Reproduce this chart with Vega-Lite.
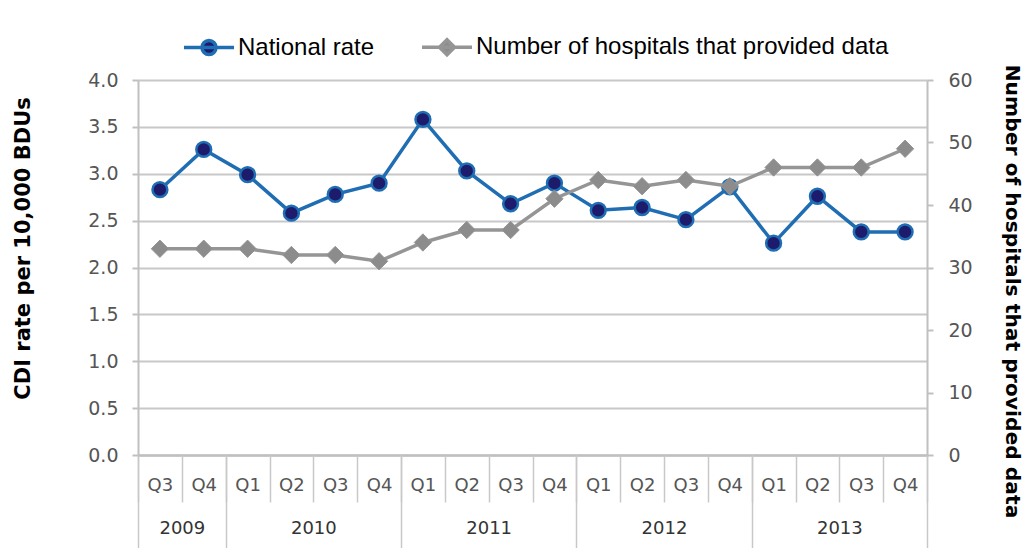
{
  "$schema": "https://vega.github.io/schema/vega-lite/v6.json",
  "width": 789,
  "height": 375,
  "autosize": "none",
  "padding": {"left": 138, "top": 80, "right": 99, "bottom": 93},
  "background": "white",
  "config": {
    "view": {"stroke": null},
    "font": "DejaVu Sans",
    "axis": {"labelFont": "DejaVu Sans", "titleFont": "DejaVu Sans"}
  },
  "data": {
    "values": [
      {"t": 0, "year": 2009, "quarter": "Q3", "rate": 2.83, "hospitals": 33},
      {"t": 1, "year": 2009, "quarter": "Q4", "rate": 3.26, "hospitals": 33},
      {"t": 2, "year": 2010, "quarter": "Q1", "rate": 2.99, "hospitals": 33},
      {"t": 3, "year": 2010, "quarter": "Q2", "rate": 2.58, "hospitals": 32},
      {"t": 4, "year": 2010, "quarter": "Q3", "rate": 2.78, "hospitals": 32},
      {"t": 5, "year": 2010, "quarter": "Q4", "rate": 2.9, "hospitals": 31},
      {"t": 6, "year": 2011, "quarter": "Q1", "rate": 3.58, "hospitals": 34},
      {"t": 7, "year": 2011, "quarter": "Q2", "rate": 3.03, "hospitals": 36},
      {"t": 8, "year": 2011, "quarter": "Q3", "rate": 2.68, "hospitals": 36},
      {"t": 9, "year": 2011, "quarter": "Q4", "rate": 2.9, "hospitals": 41},
      {"t": 10, "year": 2012, "quarter": "Q1", "rate": 2.61, "hospitals": 44},
      {"t": 11, "year": 2012, "quarter": "Q2", "rate": 2.64, "hospitals": 43},
      {"t": 12, "year": 2012, "quarter": "Q3", "rate": 2.51, "hospitals": 44},
      {"t": 13, "year": 2012, "quarter": "Q4", "rate": 2.86, "hospitals": 43},
      {"t": 14, "year": 2013, "quarter": "Q1", "rate": 2.26, "hospitals": 46},
      {"t": 15, "year": 2013, "quarter": "Q2", "rate": 2.76, "hospitals": 46},
      {"t": 16, "year": 2013, "quarter": "Q3", "rate": 2.38, "hospitals": 46},
      {"t": 17, "year": 2013, "quarter": "Q4", "rate": 2.38, "hospitals": 49}
    ]
  },
  "layer": [
    {
      "layer": [
        {
          "mark": {"type": "line", "strokeWidth": 3.5},
          "encoding": {
            "x": {
              "field": "t", "type": "quantitative",
              "scale": {"domain": [-0.5, 17.5], "nice": false, "zero": false},
              "axis": {
                "orient": "bottom", "title": null, "values": [0,1,2,3,4,5,6,7,8,9,10,11,12,13,14,15,16,17],
                "labelExpr": "'Q' + ((datum.value + 2) % 4 + 1)",
                "ticks": false, "grid": false, "labelFontSize": 18, "labelColor": "#555555",
                "labelPadding": 21, "domainColor": "#c0c0c0", "domainWidth": 2.5
              }
            },
            "y": {
              "field": "rate", "type": "quantitative",
              "scale": {"domain": [0, 4], "nice": false},
              "axis": {
                "values": [0, 0.5, 1, 1.5, 2, 2.5, 3, 3.5, 4], "format": ".1f",
                "title": "CDI rate per 10,000 BDUs", "titleFontSize": 21, "titleFontWeight": "bold",
                "titleColor": "#000000", "titlePadding": 54, "titleY": 168,
                "labelFontSize": 19, "labelColor": "#555555", "labelPadding": 14,
                "grid": true, "gridColor": "#c8c8c8", "gridWidth": 2,
                "tickColor": "#c0c0c0", "tickSize": 6, "tickWidth": 2,
                "domainColor": "#c0c0c0", "domainWidth": 2
              }
            },
            "color": {
              "datum": "National rate",
              "scale": {"domain": ["National rate", "Number of hospitals that provided data"], "range": ["#1f6db3", "#959595"]},
              "legend": {
                "orient": "none", "legendX": 44, "legendY": -60, "direction": "horizontal",
                "title": null, "labelFontSize": 24, "labelColor": "#000000", "labelFont": "Liberation Sans",
                "labelLimit": 1000,
                "symbolSize": 2500, "symbolStrokeWidth": 3.5, "columnPadding": 40, "labelOffset": 2,
                "encode": {
                  "symbols": {
                    "update": {
                      "shape": {"signal": "datum.value === 'National rate' ? 'M-1,0H1M0.28,0A0.28,0.28 0 1,1 -0.28,0A0.28,0.28 0 1,1 0.28,0Z' : 'M-1,0H1M0,-0.3L0.3,0L0,0.3L-0.3,0Z'"},
                      "fill": {"signal": "datum.value === 'National rate' ? '#1c1b6c' : '#8c8c8c'"},
                      "stroke": {"signal": "datum.value === 'National rate' ? '#1f6db3' : '#959595'"},
                      "strokeWidth": {"value": 3.5}
                    }
                  }
                }
              }
            }
          }
        },
        {
          "mark": {"type": "point", "shape": "circle", "filled": true, "fill": "#1c1b6c", "stroke": "#1f6db3", "strokeWidth": 2.5, "size": 220, "opacity": 1},
          "encoding": {
            "x": {
              "field": "t", "type": "quantitative",
              "scale": {"domain": [-0.5, 17.5], "nice": false, "zero": false},
              "axis": {
                "orient": "bottom", "title": null,
                "values": [-0.5,0.5,1.5,2.5,3.5,4.5,5.5,6.5,7.5,8.5,9.5,10.5,11.5,12.5,13.5,14.5,15.5,16.5,17.5],
                "labels": false, "domain": false, "grid": false,
                "ticks": true, "tickSize": 47, "tickColor": "#c8c8c8", "tickWidth": 1.5
              }
            },
            "y": {"field": "rate", "type": "quantitative", "scale": {"domain": [0, 4], "nice": false}}
          }
        }
      ],
      "resolve": {"axis": {"x": "independent"}}
    },
    {
      "layer": [
        {
          "mark": {"type": "line", "strokeWidth": 3.5},
          "encoding": {
            "x": {
              "field": "t", "type": "quantitative",
              "scale": {"domain": [-0.5, 17.5], "nice": false, "zero": false},
              "axis": {
                "orient": "bottom", "title": null,
                "values": [-0.5, 1.5, 5.5, 9.5, 13.5, 17.5],
                "labels": false, "domain": false, "grid": false,
                "ticks": true, "tickSize": 93, "tickColor": "#c8c8c8", "tickWidth": 1.5
              }
            },
            "y": {
              "field": "hospitals", "type": "quantitative",
              "scale": {"domain": [0, 60], "nice": false},
              "axis": {
                "orient": "right", "values": [0, 10, 20, 30, 40, 50, 60],
                "title": "Number of hospitals that provided data", "titleFontSize": 20.3, "titleFontWeight": "bold",
                "titleColor": "#000000", "titlePadding": 29, "titleY": 211,
                "labelFontSize": 19, "labelColor": "#555555", "labelPadding": 15,
                "grid": false, "tickColor": "#c0c0c0", "tickSize": 6, "tickWidth": 2,
                "domainColor": "#c0c0c0", "domainWidth": 2
              }
            },
            "color": {"datum": "Number of hospitals that provided data"}
          }
        },
        {
          "mark": {"type": "point", "shape": "diamond", "filled": true, "fill": "#8c8c8c", "stroke": "#959595", "strokeWidth": 1, "size": 300, "opacity": 1},
          "encoding": {
            "x": {
              "field": "t", "type": "quantitative",
              "scale": {"domain": [-0.5, 17.5], "nice": false, "zero": false},
              "axis": {
                "orient": "bottom", "title": null,
                "values": [0.5, 3.5, 7.5, 11.5, 15.5],
                "labelExpr": "'' + (2009 + floor((datum.value + 2) / 4))",
                "ticks": false, "domain": false, "grid": false,
                "labelFontSize": 18, "labelColor": "#333333", "labelPadding": 64
              }
            },
            "y": {"field": "hospitals", "type": "quantitative", "scale": {"domain": [0, 60], "nice": false}}
          }
        }
      ],
      "resolve": {"axis": {"x": "independent"}}
    }
  ],
  "resolve": {"scale": {"y": "independent"}, "axis": {"x": "independent"}}
}
